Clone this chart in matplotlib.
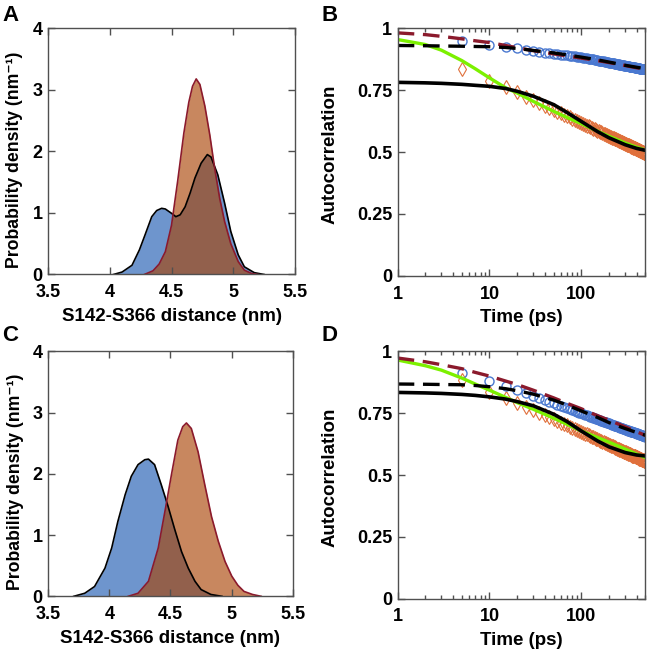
import numpy as np
import matplotlib
matplotlib.use("Agg")
import matplotlib.pyplot as plt
from matplotlib.ticker import LogLocator, NullFormatter

plt.rcParams['font.family'] = ['Liberation Sans', 'DejaVu Sans']
plt.rcParams['font.weight'] = 'bold'

# ---- distance distributions (panels A and C) ----
a_blue_x = [4.03, 4.10, 4.18, 4.24, 4.285, 4.34, 4.38, 4.42, 4.45, 4.50, 4.535, 4.57, 4.61,
            4.65, 4.69, 4.74, 4.79, 4.82, 4.875, 4.93, 4.98, 5.04, 5.09, 5.17, 5.25]
a_blue_y = [0.0, 0.04, 0.15, 0.40, 0.64, 0.94, 1.04, 1.076, 1.065, 0.995, 0.94, 0.97, 1.10,
            1.32, 1.57, 1.81, 1.95, 1.91, 1.62, 1.16, 0.70, 0.32, 0.125, 0.03, 0.0]
a_orange_x = [4.28, 4.35, 4.40, 4.45, 4.50, 4.55, 4.60, 4.64, 4.67, 4.70, 4.73, 4.77, 4.81,
              4.85, 4.89, 4.93, 4.98, 5.04, 5.09, 5.15, 5.20]
a_orange_y = [0.0, 0.06, 0.17, 0.37, 0.80, 1.52, 2.30, 2.80, 3.06, 3.18, 3.09, 2.74, 2.27,
              1.72, 1.24, 0.86, 0.50, 0.21, 0.07, 0.016, 0.0]

c_blue_x = [3.71, 3.80, 3.88, 3.965, 4.02, 4.07, 4.13, 4.18, 4.235, 4.29, 4.32, 4.37, 4.425,
            4.48, 4.535, 4.59, 4.645, 4.70, 4.75, 4.83, 4.92]
c_blue_y = [0.0, 0.05, 0.16, 0.46, 0.79, 1.22, 1.66, 1.96, 2.15, 2.23, 2.24, 2.15, 1.82,
            1.47, 1.09, 0.73, 0.46, 0.245, 0.11, 0.03, 0.0]
c_orange_x = [4.155, 4.235, 4.32, 4.40, 4.455, 4.51, 4.56, 4.60, 4.63, 4.67, 4.725, 4.78,
              4.835, 4.89, 4.945, 5.0, 5.05, 5.10, 5.17, 5.24]
c_orange_y = [0.0, 0.05, 0.245, 0.79, 1.39, 2.01, 2.55, 2.77, 2.83, 2.74, 2.36, 1.82,
              1.30, 0.90, 0.57, 0.33, 0.18, 0.08, 0.03, 0.0]

# ---- autocorrelation data (panels B and D), one point every 5 ps ----
t_data = list(range(5, 501, 5))

b_circ = [.949, .935, .925, .919, .914, .909, .905, .902, .899, .897,
          .895, .894, .892, .891, .890, .889, .888, .886, .885, .884,
          .882, .881, .880, .878, .877, .876, .875, .874, .872, .871,
          .870, .869, .868, .868, .867, .866, .865, .864, .863, .862,
          .861, .861, .860, .860, .859, .858, .857, .857, .856, .856,
          .855, .854, .853, .853, .852, .852, .851, .851, .850, .850,
          .849, .849, .848, .848, .847, .847, .846, .846, .845, .845,
          .844, .844, .843, .843, .843, .843, .842, .842, .841, .841,
          .840, .840, .839, .839, .839, .839, .838, .838, .837, .837,
          .837, .837, .836, .836, .835, .835, .835, .835, .834, .834]
b_diam = [.838, .787, .765, .741, .724, .710, .698, .688, .679, .671,
          .664, .657, .651, .645, .640, .635, .630, .626, .622, .618,
          .614, .611, .607, .604, .601, .598, .595, .592, .589, .587,
          .584, .582, .580, .578, .575, .573, .571, .569, .567, .565,
          .563, .561, .559, .558, .556, .554, .552, .551, .549, .548,
          .546, .545, .543, .542, .540, .539, .538, .537, .535, .534,
          .533, .532, .530, .529, .528, .527, .526, .525, .523, .522,
          .521, .520, .519, .518, .517, .516, .515, .514, .513, .512,
          .511, .510, .509, .508, .507, .507, .506, .505, .504, .503,
          .502, .501, .500, .500, .499, .498, .497, .497, .496, .495]
d_circ = [.913, .881, .860, .843, .830, .819, .810, .803, .796, .790,
          .784, .779, .774, .770, .766, .762, .759, .755, .752, .749,
          .746, .744, .741, .738, .736, .734, .731, .729, .727, .725,
          .723, .722, .720, .718, .716, .715, .713, .712, .710, .709,
          .707, .706, .704, .703, .701, .700, .699, .698, .697, .696,
          .694, .693, .692, .691, .690, .689, .688, .687, .686, .685,
          .684, .683, .682, .681, .680, .679, .678, .678, .677, .676,
          .675, .674, .673, .673, .672, .671, .670, .670, .669, .668,
          .667, .667, .666, .666, .665, .664, .663, .663, .662, .662,
          .661, .660, .659, .659, .658, .658, .657, .657, .656, .655]
d_diam = [.886, .836, .812, .793, .777, .763, .752, .742, .733, .725,
          .718, .712, .706, .701, .695, .691, .686, .682, .678, .674,
          .670, .667, .664, .661, .658, .655, .652, .649, .646, .644,
          .641, .639, .637, .635, .633, .631, .629, .627, .625, .623,
          .621, .619, .617, .616, .614, .612, .610, .609, .607, .606,
          .604, .603, .602, .601, .599, .598, .596, .595, .594, .593,
          .592, .591, .589, .588, .587, .586, .585, .584, .583, .582,
          .580, .579, .578, .577, .576, .575, .575, .574, .573, .572,
          .571, .570, .569, .568, .567, .566, .566, .565, .564, .563,
          .562, .562, .561, .560, .559, .559, .558, .557, .556, .555]

t_fit = [1, 2, 3, 5, 7, 10, 15, 20, 30, 50, 70, 100, 150, 200, 300, 400, 500]
b_green = [.955, .935, .912, .870, .837, .800, .760, .739, .705, .665, .640, .615, .585, .564, .537, .520, .508]
b_black = [.782, .780, .778, .774, .770, .766, .757, .746, .726, .692, .660, .624, .583, .558, .530, .515, .507]
b_red_dash = [.982, .975, .968, .958, .950, .943, .931, .922, .910, .897, .889, .880, .870, .862, .850, .841, .835]
b_black_dash = [.931, .930, .929, .928, .927, .926, .923, .919, .911, .901, .893, .884, .873, .864, .851, .843, .837]
d_green = [.965, .942, .924, .892, .868, .843, .814, .793, .766, .730, .705, .678, .652, .633, .605, .585, .570]
d_black = [.834, .832, .830, .826, .822, .816, .807, .797, .780, .746, .716, .678, .638, .614, .591, .581, .577]
d_red_dash = [.973, .958, .946, .930, .915, .900, .880, .866, .843, .812, .790, .768, .740, .722, .695, .675, .660]
d_black_dash = [.868, .867, .866, .865, .862, .857, .849, .841, .827, .803, .783, .759, .733, .712, .688, .672, .661]

BLUE = '#1958B0'
ORANGE = '#A84101'
DARKRED = '#8B1A2C'
GREEN = '#7CF000'
CIRC = '#4A78D0'
DIAM = '#E0703C'
FRAME = '#505050'

fig = plt.figure(figsize=(6.54, 6.52), dpi=100)
axA = fig.add_axes([0.0734, 0.579, 0.3777, 0.3773])
axB = fig.add_axes([0.608, 0.577, 0.379, 0.3794])
axC = fig.add_axes([0.0734, 0.0854, 0.3746, 0.3758])
axD = fig.add_axes([0.608, 0.0817, 0.379, 0.3794])


def style(ax):
    for s in ax.spines.values():
        s.set_color(FRAME)
        s.set_linewidth(1.0)
    ax.tick_params(which='both', direction='in', top=True, right=True, color=FRAME,
                   labelsize=13, width=1.0)
    ax.tick_params(which='major', length=5)
    ax.tick_params(which='minor', length=3)
    ax.tick_params(axis='x', pad=7)
    ax.tick_params(axis='y', pad=4)


def dist_panel(ax, bx, by, ox, oy):
    ax.fill_between(bx, by, color=BLUE, alpha=0.63, lw=0)
    ax.fill_between(ox, oy, color=ORANGE, alpha=0.63, lw=0)
    ax.plot(bx, by, color='black', lw=1.2)
    ax.plot(ox, oy, color=DARKRED, lw=1.2)
    ax.set_xlim(3.5, 5.5)
    ax.set_ylim(0, 4)
    ax.set_xticks([3.5, 4, 4.5, 5, 5.5])
    ax.set_xticklabels(['3.5', '4', '4.5', '5', '5.5'])
    ax.set_yticks([0, 1, 2, 3, 4])
    ax.set_xlabel('S142-S366 distance (nm)', fontsize=13.5, fontweight='bold')
    ax.set_ylabel('Probability density (nm\u207b\u00b9)', fontsize=12.7, fontweight='bold')
    ax.xaxis.set_label_coords(0.5, -0.138)
    ax.yaxis.set_label_coords(-0.1, 0.467)
    style(ax)


def acf_panel(ax, circ, diam, green, black, rdash, kdash):
    ax.plot(t_data, diam, linestyle='none', marker='d', ms=7.5, mfc='none', mec=DIAM, mew=0.8)
    ax.plot(t_data, circ, linestyle='none', marker='o', ms=6.5, mfc='none', mec=CIRC, mew=1.0)
    ax.plot(t_fit, green, color=GREEN, lw=2.4)
    ax.plot(t_fit, black, color='black', lw=2.6)
    ax.plot(t_fit, rdash, color=DARKRED, lw=2.4, dashes=(5, 2.6))
    ax.plot(t_fit, kdash, color='black', lw=2.4, dashes=(5, 2.6))
    ax.set_xscale('log')
    ax.set_xlim(1, 500)
    ax.set_ylim(0, 1)
    ax.set_xticks([1, 10, 100])
    ax.set_xticklabels(['1', '10', '100'])
    ax.xaxis.set_minor_locator(LogLocator(base=10, subs=np.arange(2, 10)))
    ax.xaxis.set_minor_formatter(NullFormatter())
    ax.set_yticks([0, 0.25, 0.5, 0.75, 1])
    ax.set_yticklabels(['0', '0.25', '0.5', '0.75', '1'])
    ax.set_xlabel('Time (ps)', fontsize=13.5, fontweight='bold')
    ax.set_ylabel('Autocorrelation', fontsize=13.5, fontweight='bold')
    ax.xaxis.set_label_coords(0.5, -0.135)
    ax.yaxis.set_label_coords(-0.24, 0.49)
    style(ax)


dist_panel(axA, a_blue_x, a_blue_y, a_orange_x, a_orange_y)
dist_panel(axC, c_blue_x, c_blue_y, c_orange_x, c_orange_y)
acf_panel(axB, b_circ, b_diam, b_green, b_black, b_red_dash, b_black_dash)
acf_panel(axD, d_circ, d_diam, d_green, d_black, d_red_dash, d_black_dash)

for lab, x, y in [('A', 0.004, 0.992), ('B', 0.492, 0.992), ('C', 0.004, 0.502), ('D', 0.492, 0.502)]:
    fig.text(x, y, lab, fontsize=16, fontweight='bold', va='top', ha='left')

fig.savefig('out.png', dpi=100)
